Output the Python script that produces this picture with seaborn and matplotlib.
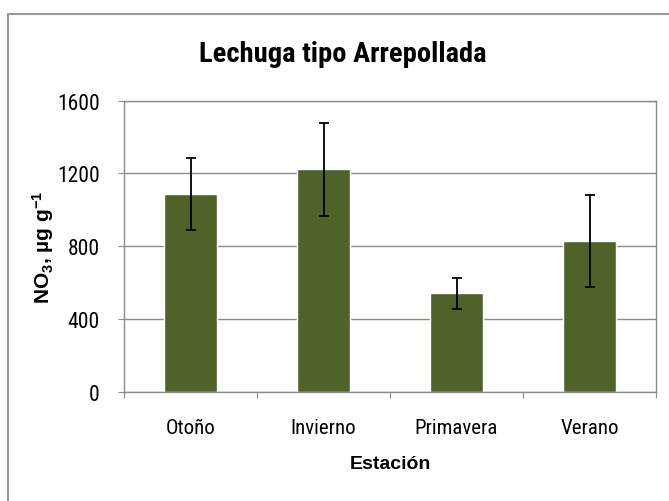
import matplotlib
matplotlib.use("Agg")
import matplotlib.pyplot as plt
import seaborn as sns
import pandas as pd
from matplotlib.patches import Rectangle

# values
estaciones = ["Otoño", "Invierno", "Primavera", "Verano"]
nitrato = [1085, 1222, 542, 829]
error = [198, 256, 85, 255]
y_ticks = [0, 400, 800, 1200, 1600]

df = pd.DataFrame({"Estación": estaciones, "NO3": nitrato, "err": error})

sns.set_style("white")
narrow = ["Liberation Sans Narrow", "Roboto Condensed", "DejaVu Sans"]
plt.rcParams["mathtext.default"] = "regular"
plt.rcParams["text.color"] = "black"
plt.rcParams["xtick.color"] = "black"
plt.rcParams["ytick.color"] = "black"
plt.rcParams["axes.labelcolor"] = "black"

fig = plt.figure(figsize=(6.69, 5.02), dpi=100)
ax = fig.add_axes([124 / 669, 1 - 392.7 / 502, (656 - 124) / 669, 291 / 502])

sns.barplot(data=df, x="Estación", y="NO3", color="#4F6228", width=0.4,
            saturation=1, ax=ax, zorder=2)
ax.errorbar(range(len(df)), df["NO3"], yerr=df["err"], fmt="none",
            ecolor="black", elinewidth=1.3, capsize=3.3, capthick=1.3, zorder=3)

ax.set_ylim(0, 1600)
ax.set_xlim(-0.5, 3.5)
ax.set_yticks(y_ticks)
ax.yaxis.grid(True, color="#8c8c8c", linewidth=1)
ax.set_axisbelow(True)
for s in ax.spines.values():
    s.set_color("#8c8c8c")
    s.set_linewidth(1)

# category boundary ticks, labels at the centres
ax.set_xticks([-0.5, 0.5, 1.5, 2.5, 3.5])
ax.set_xticklabels([])
ax.set_xticks(range(len(estaciones)), minor=True)
ax.set_xticklabels(estaciones, minor=True, fontsize=15, family=narrow, stretch="condensed")
ax.tick_params(axis="x", which="major", length=4.5, color="#8c8c8c", direction="out", bottom=True)
ax.tick_params(axis="x", which="minor", length=0, pad=19, labelcolor="black")
ax.tick_params(axis="y", length=4.5, color="#8c8c8c", direction="out", left=True, pad=13,
               labelcolor="black")
for lab in ax.get_yticklabels():
    lab.set_family(narrow)
    lab.set_stretch("condensed")
    lab.set_fontsize(15.5)

ax.set_xlabel("Estación", fontsize=14, fontweight="bold",
              family=["Liberation Sans", "DejaVu Sans"], labelpad=13)
ax.set_ylabel("NO$_3$, µg g$^{-1}$", fontsize=15, fontweight="bold",
              family=["Liberation Sans", "DejaVu Sans"])
ax.yaxis.set_label_coords(-0.128, 0.5)

fig.text(343 / 669, 1 - 55 / 502, "Lechuga tipo Arrepollada", ha="center", va="center",
         fontsize=20.5, fontweight="bold", family=narrow, stretch="condensed")

# outer chart frame
fig.patches.append(Rectangle((8 / 669, -0.1), 1.2, 1 - 15 / 502 + 0.1,
                             transform=fig.transFigure, fill=False,
                             edgecolor="#9a9a9a", linewidth=1.5))

fig.savefig("out.png", dpi=100)
